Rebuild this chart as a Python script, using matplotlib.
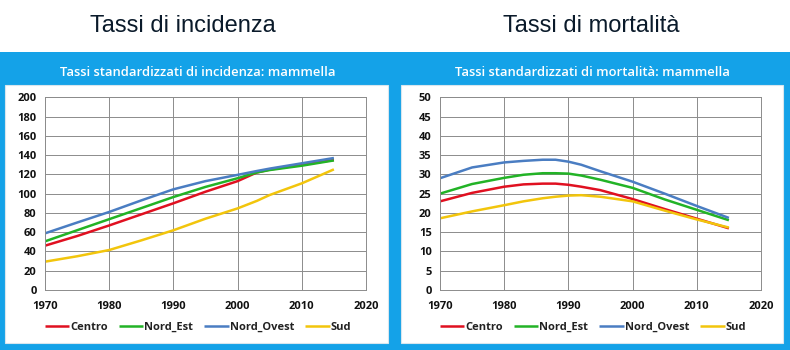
import matplotlib
matplotlib.use("Agg")
import matplotlib.pyplot as plt
from matplotlib.patches import Rectangle

# ---- data ----
series_names = ["Centro", "Nord_Est", "Nord_Ovest", "Sud"]
series_colors = ["#E01020", "#22B326", "#4A7DC2", "#F2C50C"]

inc_years = [1970, 1975, 1980, 1985, 1990, 1995, 2000, 2003, 2005, 2010, 2015]
inc_centro = [46, 56, 67, 78.5, 90, 102, 113, 122, 125, 130, 135]
inc_nord_est = [50.5, 62, 73.5, 85, 96.5, 107, 116, 122, 124.5, 129, 134.5]
inc_nord_ovest = [58.8, 70, 81, 93, 104.5, 113, 119.5, 123.5, 126, 131.5, 137]
inc_sud = [29.4, 35, 41.5, 51.5, 62, 74, 84.7, 92.5, 98.6, 110.7, 125.2]

mor_years = [1970, 1975, 1980, 1983, 1986, 1988, 1990, 1992, 1995, 2000, 2005, 2010, 2015]
mor_centro = [23, 25.2, 26.8, 27.4, 27.6, 27.6, 27.3, 26.8, 25.9, 23.6, 21, 18.5, 16]
mor_nord_est = [25, 27.5, 29.1, 29.9, 30.3, 30.3, 30.2, 29.7, 28.6, 26.5, 23.5, 20.8, 18.1]
mor_nord_ovest = [29, 31.8, 33.1, 33.5, 33.8, 33.8, 33.3, 32.5, 30.8, 28.1, 25, 21.8, 18.7]
mor_sud = [18.6, 20.4, 22, 23, 23.8, 24.2, 24.5, 24.6, 24.2, 23, 20.6, 18.3, 16.2]

headers = ["Tassi di incidenza", "Tassi di mortalità"]
panel_titles = ["Tassi standardizzati di incidenza: mammella",
                "Tassi standardizzati di mortalità: mammella"]
inc_yticks = [0, 20, 40, 60, 80, 100, 120, 140, 160, 180, 200]
mor_yticks = [0, 5, 10, 15, 20, 25, 30, 35, 40, 45, 50]
xticks = [1970, 1980, 1990, 2000, 2010, 2020]

W, H = 790, 350
fig = plt.figure(figsize=(W / 100, H / 100), dpi=100)
fig.patch.set_facecolor("white")

def px_rect(x0, y0, x1, y1, **kw):
    r = Rectangle((x0 / W, 1 - y1 / H), (x1 - x0) / W, (y1 - y0) / H,
                  transform=fig.transFigure, figure=fig, **kw)
    fig.patches.append(r)

blue = "#14A2E8"
px_rect(0, 52, 790, 350, facecolor=blue, edgecolor="none", zorder=0)
px_rect(5, 85, 388, 343, facecolor="white", edgecolor="#d8e6ee", lw=0.8, zorder=1)
px_rect(401, 85, 783, 343, facecolor="white", edgecolor="#d8e6ee", lw=0.8, zorder=1)

fig.text(183 / W, 1 - 26 / H, headers[0], ha="center", va="center",
         fontsize=17, family="Liberation Sans", color="#0a1a2a")
fig.text(591 / W, 1 - 26 / H, headers[1], ha="center", va="center",
         fontsize=17, family="Liberation Sans", color="#0a1a2a")
fig.text(198 / W, 1 - 72 / H, panel_titles[0], ha="center", va="center",
         fontsize=9.4, family="Open Sans", color="white", fontweight="semibold")
fig.text(592 / W, 1 - 72 / H, panel_titles[1], ha="center", va="center",
         fontsize=9.4, family="Open Sans", color="white", fontweight="semibold")

panels = [
    (45, inc_years, [inc_centro, inc_nord_est, inc_nord_ovest, inc_sud], inc_yticks, 200),
    (440, mor_years, [mor_centro, mor_nord_est, mor_nord_ovest, mor_sud], mor_yticks, 50),
]
for left_px, years, vals, yticks, ymax in panels:
    ax = fig.add_axes([left_px / W, 60 / H, 321 / W, 192.7 / H], zorder=3)
    ax.set_facecolor("none")
    for name, col, v in zip(series_names, series_colors, vals):
        ax.plot(years, v, color=col, lw=1.8, label=name, solid_capstyle="butt",
                solid_joinstyle="round")
    ax.set_xlim(1970, 2020)
    ax.set_ylim(0, ymax)
    ax.set_xticks(xticks)
    ax.set_yticks(yticks)
    ax.grid(True, color="#8c8c8c", lw=0.7)
    ax.set_axisbelow(True)
    for s in ax.spines.values():
        s.set_color("#8c8c8c")
        s.set_linewidth(0.7)
    ax.tick_params(length=0, pad=6, labelsize=8)
    for lab in ax.get_xticklabels() + ax.get_yticklabels():
        lab.set_fontweight("bold")
        lab.set_family("Open Sans")
        lab.set_color("#111111")
    ax.tick_params(axis="x", pad=8)
    leg = ax.legend(loc="center", bbox_to_anchor=((left_px + 153) / W, 1 - 327 / H),
                    bbox_transform=fig.transFigure, ncol=4, frameon=False,
                    handlelength=2.2, handletextpad=0.1, columnspacing=1.0,
                    prop={"family": "Open Sans", "weight": "bold", "size": 8})
    for t in leg.get_texts():
        t.set_color("#222222")

fig.savefig("out.png", dpi=100, facecolor="white")
